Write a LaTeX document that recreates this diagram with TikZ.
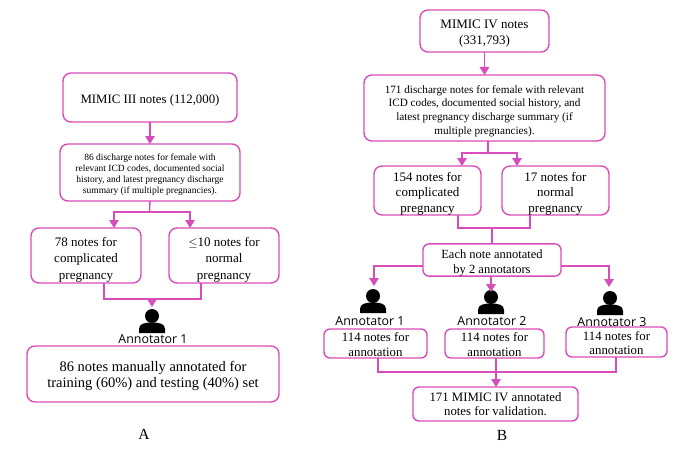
\documentclass[tikz,border=0pt]{standalone}
\usepackage{fontspec}
\setmainfont{Liberation Serif}
\newfontfamily\annfont{Open Sans}
\usetikzlibrary{arrows.meta}
\definecolor{flowpink}{HTML}{D84DB9}
\newcommand{\pushtext}[1]{\rule{0pt}{#1pt}}

\tikzset{
    notebox/.style={draw=flowpink, line width=1.4pt, rounded corners=8pt, align=center,
        inner sep=0pt, outer sep=0pt, font=\fontsize{13}{15.5}\selectfont},
    flow/.style={draw=flowpink, line width=1.4pt},
    flowtip/.style={flow, -{Triangle[length=8pt,width=9.5pt]}},
    annlabel/.style={font=\annfont\fontsize{12.4}{14}\selectfont, inner sep=0pt},
    person/.pic={
        \fill[black] (0,0) circle (7pt);
        \fill[black] (-13,17) -- (-13,13) .. controls (-13,8) and (-8,6.5) .. (0,6.5)
            .. controls (8,6.5) and (13,8) .. (13,13) -- (13,17) -- cycle;
    }
}

\begin{document}
\begin{tikzpicture}[x=1pt, y=-1pt]
        \useasboundingbox (0,0) rectangle (685,460);

        % panel A
        \node[notebox, minimum width=174pt, minimum height=49pt, font=\fontsize{12.8}{15}\selectfont] (mimicA) at (150,97.5) {\pushtext{15}MIMIC III notes (112,000)};
        \node[notebox, minimum width=180pt, minimum height=57pt, font=\fontsize{9.5}{11.3}\selectfont] (filterA) at (150,172.5)
            {\pushtext{11}86 discharge notes for female with\\relevant ICD codes, documented social\\history, and latest pregnancy discharge\\summary (if multiple pregnancies).};
        \node[notebox, minimum width=110pt, minimum height=55pt] (compA) at (86,255.5) {\pushtext{18}78 notes for\\complicated\\[2pt]pregnancy};
        \node[notebox, minimum width=110pt, minimum height=55pt] (normA) at (224,255.5) {\pushtext{18}$\leq$10 notes for\\normal\\[2pt]pregnancy};
        \node[annlabel] (annA) at (153,339) {Annotator 1};
        \node[notebox, minimum width=252pt, minimum height=56pt, font=\fontsize{14.5}{16}\selectfont] (doneA) at (153,374) {\pushtext{15}86 notes manually annotated for\\training (60\%) and testing (40\%) set};
        \node[font=\fontsize{15.5}{17}\selectfont] (labelA) at (144,434) {A};
        \pic at (152,316) {person};

        \coordinate (splitA) at (149.5,212);
        \coordinate (mergeA) at (152,299);
        \coordinate (iconA) at (152,307);

        \draw[flowtip] (mimicA) -- (filterA);
        \draw[flow] (filterA.south) -- (splitA);
        \draw[flowtip] (splitA) -| ([xshift=28]compA.north);
        \draw[flowtip] (splitA) -| ([xshift=-34]normA.north);
        \draw[flow] ([xshift=18]compA.south) |- (mergeA);
        \draw[flow] ([xshift=-23]normA.south) |- (mergeA);
        \draw[flowtip] (mergeA) -- (iconA);

        % panel B
        \node[notebox, minimum width=129pt, minimum height=42pt] (mimicB) at (484.5,31) {\pushtext{14}MIMIC IV notes\\(331,793)};
        \node[notebox, minimum width=241pt, minimum height=66pt, font=\fontsize{11.2}{13.8}\selectfont] (filterB) at (484.5,108)
            {\pushtext{14}171 discharge notes for female with relevant\\ICD codes, documented social history, and\\latest pregnancy discharge summary (if\\multiple pregnancies).};
        \node[notebox, minimum width=107pt, minimum height=49pt] (compB) at (427.5,190.5) {\pushtext{15}154 notes for\\complicated\\pregnancy};
        \node[notebox, minimum width=107pt, minimum height=49pt] (normB) at (555.5,190.5) {\pushtext{15}17 notes for\\normal\\pregnancy};
        \node[notebox, minimum width=138pt, minimum height=32pt, rounded corners=6pt, font=\fontsize{12.5}{14.5}\selectfont] (eachB) at (492,260) {\pushtext{15}Each note annotated\\by 2 annotators};
        \node[annlabel] (ann1) at (370,321) {Annotator 1};
        \node[annlabel] (ann2) at (492,321) {Annotator 2};
        \node[annlabel] (ann3) at (612,322) {Annotator 3};
        \node[notebox, minimum width=103pt, minimum height=29pt, rounded corners=6pt, font=\fontsize{12.8}{14.5}\selectfont] (notes1) at (375.5,343.5) {\pushtext{11}114 notes for\\annotation};
        \node[notebox, minimum width=99pt, minimum height=29pt, rounded corners=6pt, font=\fontsize{12.8}{14.5}\selectfont] (notes2) at (494.5,343.5) {\pushtext{11}114 notes for\\annotation};
        \node[notebox, minimum width=101pt, minimum height=30pt, rounded corners=6pt, font=\fontsize{12.8}{14.5}\selectfont] (notes3) at (616.5,342) {\pushtext{11}114 notes for\\annotation};
        \node[notebox, minimum width=165pt, minimum height=34pt, rounded corners=6pt, font=\fontsize{12.8}{14.5}\selectfont] (doneB) at (495.5,404) {171 MIMIC IV annotated\\notes for validation.};
        \node[font=\fontsize{15.5}{17}\selectfont] (labelB) at (502,435) {B};
        \pic at (373,296) {person};
        \pic at (491,297) {person};
        \pic at (610,298) {person};

        \coordinate (splitB) at (488,153);
        \coordinate (mergeB) at (492,228);
        \coordinate (icon1) at (374,286);
        \coordinate (icon2) at (491,292);
        \coordinate (icon3) at (609,287);
        \coordinate (mergeC) at (496,372);

        \draw[flowtip] (mimicB) -- (filterB);
        \draw[flow] ([xshift=3.5]filterB.south) -- (splitB);
        \draw[flowtip] (splitB) -| ([xshift=34.5]compB.north);
        \draw[flowtip] (splitB) -| ([xshift=-38.5]normB.north);
        \draw[flow] ([xshift=30.5]compB.south) |- (mergeB);
        \draw[flow] ([xshift=-25.5]normB.south) |- (mergeB);
        \draw[flow] (mergeB) -- (eachB.north);
        \draw[flowtip] ([yshift=10]eachB.south west) -| (icon1);
        \draw[flowtip] (eachB.south -| icon2) -- (icon2);
        \draw[flowtip] ([yshift=10]eachB.south east) -| (icon3);
        \draw[flow] ([xshift=2.5]notes1.south) |- (mergeC);
        \draw[flow] ([xshift=-0.5]notes3.south) |- (mergeC);
        \draw[flowtip] ([xshift=1.5]notes2.south) -- ([xshift=0.5]doneB.north);
\end{tikzpicture}
\end{document}
